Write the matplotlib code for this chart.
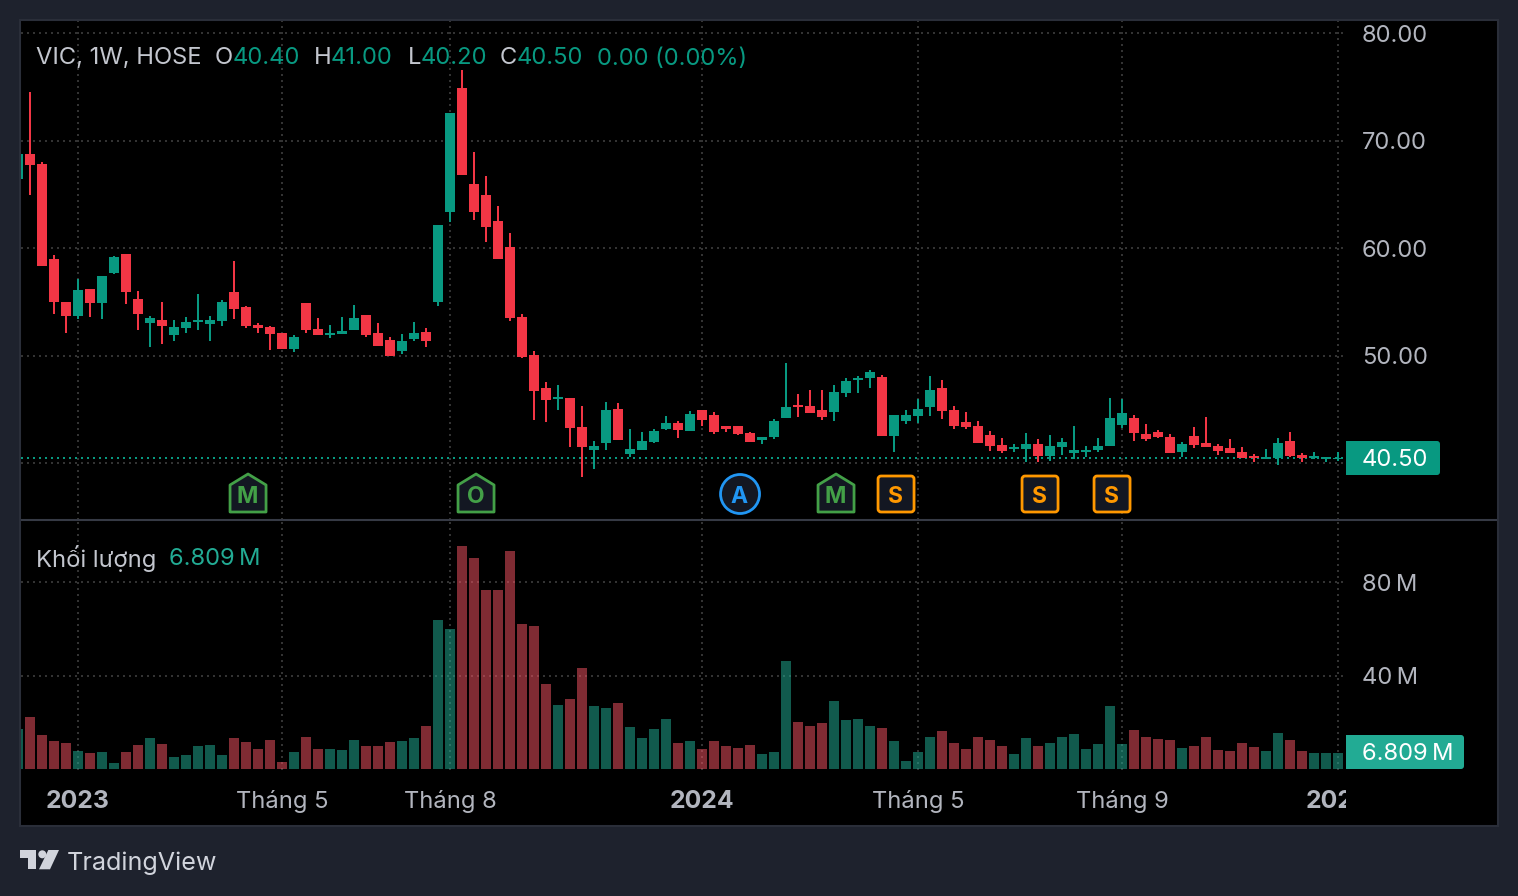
import matplotlib
matplotlib.use('Agg')
import matplotlib.pyplot as plt
import numpy as np
from matplotlib.patches import Polygon, Circle, FancyBboxPatch, Rectangle
from matplotlib.transforms import Bbox

plt.rcParams['font.family'] = ['Inter', 'DejaVu Sans']

# weekly candles, first one is cut by the left edge
opens = [66.45, 68.78, 67.85, 59.00, 55.00, 53.69, 56.21, 54.90, 57.70, 59.47, 55.28, 53.04, 53.32, 51.92, 52.58, 53.14,
         52.95, 53.23, 55.93, 54.53, 52.86, 52.67, 52.11, 50.62, 54.90, 52.48, 51.92, 52.02, 52.39, 53.79, 52.11, 51.46,
         50.43, 51.55, 52.20, 55.00, 63.38, 74.93, 65.99, 64.96, 62.54, 60.12, 53.60, 50.06, 46.99, 45.96, 46.06, 43.36,
         41.22, 41.87, 45.03, 40.84, 41.22, 41.96, 43.17, 43.73, 42.98, 44.94, 44.47, 43.45, 43.45, 42.80, 42.15, 42.43,
         44.20, 45.41, 45.31, 44.94, 44.75, 46.52, 47.73, 47.92, 48.01, 42.52, 43.92, 44.38, 45.22, 46.99, 44.94, 43.82,
         43.45, 42.61, 41.68, 41.31, 41.31, 41.77, 40.66, 41.50, 40.94, 41.03, 41.22, 41.59, 43.54, 44.20, 42.71, 42.89,
         42.43, 41.03, 42.52, 41.87, 41.59, 41.40, 41.03, 40.66, 40.38, 40.47, 42.05, 40.75, 40.47, 40.38, 40.40]
highs = [68.78, 74.55, 68.03, 59.37, 55.00, 57.14, 56.21, 57.42, 59.28, 59.47, 56.02, 53.69, 55.00, 53.32, 53.60, 55.74,
         53.69, 55.18, 58.82, 54.62, 53.04, 52.76, 52.11, 51.92, 54.90, 53.51, 52.86, 53.60, 54.72, 53.79, 53.04, 51.74,
         52.02, 53.14, 52.58, 62.17, 72.60, 76.60, 68.97, 66.73, 63.94, 61.42, 53.88, 50.43, 47.55, 47.27, 46.06, 45.31,
         42.05, 45.69, 45.59, 43.17, 42.89, 43.17, 44.38, 43.92, 44.85, 44.94, 44.75, 43.45, 43.45, 42.89, 42.43, 44.10,
         49.32, 46.43, 46.80, 46.80, 47.27, 47.92, 48.11, 48.67, 48.20, 44.47, 44.94, 45.96, 48.11, 47.73, 45.31, 44.75,
         43.92, 42.98, 42.33, 41.77, 42.80, 42.24, 42.61, 42.33, 43.45, 41.59, 42.33, 46.06, 45.96, 44.47, 43.64, 43.08,
         42.71, 41.96, 43.36, 44.29, 41.77, 42.24, 41.50, 40.84, 41.31, 42.33, 42.89, 40.94, 41.03, 40.56, 41.00]
lows = [66.45, 64.96, 58.35, 53.88, 52.11, 53.41, 53.60, 53.41, 57.60, 54.81, 52.39, 50.81, 51.09, 51.37, 52.11, 52.39,
        51.37, 52.76, 53.41, 52.58, 52.11, 50.53, 50.62, 50.34, 52.11, 51.92, 51.65, 52.02, 52.39, 51.74, 50.90, 49.97,
        50.16, 51.37, 50.81, 54.62, 62.45, 66.82, 62.63, 60.58, 59.00, 53.23, 49.78, 44.01, 43.82, 44.94, 41.50, 38.70,
        39.45, 41.22, 42.15, 40.56, 41.22, 41.87, 43.08, 42.33, 42.98, 43.45, 42.71, 42.89, 42.61, 41.96, 41.77, 42.24,
        44.20, 44.29, 44.66, 44.01, 43.92, 46.15, 46.52, 46.99, 42.52, 41.03, 43.64, 43.73, 44.38, 44.10, 43.17, 43.17,
        41.87, 41.12, 40.94, 41.03, 40.10, 40.10, 40.19, 40.75, 40.38, 40.56, 41.03, 41.59, 43.26, 42.05, 42.05, 42.33,
        40.94, 40.56, 41.40, 41.50, 40.75, 40.94, 40.47, 40.10, 40.38, 39.82, 40.56, 40.10, 40.38, 40.10, 40.20]
closes = [68.78, 67.75, 58.35, 55.00, 53.69, 56.11, 54.90, 57.42, 59.19, 55.93, 53.88, 53.51, 52.76, 52.67, 53.14, 53.32,
          53.32, 55.00, 54.35, 52.76, 52.58, 52.02, 50.62, 51.74, 52.39, 51.92, 52.11, 52.30, 53.51, 51.92, 50.90, 49.97,
          51.37, 52.11, 51.37, 62.17, 72.60, 66.82, 63.38, 61.98, 59.00, 53.51, 49.88, 46.71, 45.87, 46.15, 43.26, 41.50,
          41.59, 44.94, 42.15, 41.31, 42.05, 42.98, 43.73, 43.08, 44.57, 44.01, 42.89, 43.17, 42.71, 41.96, 42.43, 43.92,
          45.22, 45.22, 44.66, 44.29, 46.62, 47.64, 47.92, 48.48, 42.52, 44.47, 44.47, 45.03, 46.80, 44.85, 43.45, 43.36,
          41.87, 41.59, 41.12, 41.50, 41.77, 40.66, 41.59, 41.96, 41.22, 41.22, 41.59, 44.20, 44.66, 42.80, 42.24, 42.43,
          40.94, 41.77, 41.68, 41.50, 41.12, 40.94, 40.47, 40.47, 40.56, 41.87, 40.66, 40.47, 40.66, 40.56, 40.50]
# volume in millions
volumes = [17.1, 22.3, 14.6, 12.0, 11.1, 7.7, 6.9, 7.3, 2.6, 7.3, 10.3, 13.3, 10.7, 5.1, 6.0, 9.9, 10.3, 6.0, 13.3, 11.6,
           8.6, 12.4, 3.0, 7.3, 13.7, 8.6, 8.6, 8.1, 12.4, 9.9, 9.9, 11.6, 12.0, 13.3, 18.4, 63.9, 60.0, 95.6, 90.4, 76.7,
           76.7, 93.4, 62.1, 61.3, 36.4, 27.4, 30.0, 43.3, 27.0, 26.1, 28.3, 18.0, 13.3, 17.1, 21.4, 11.1, 12.0, 8.6, 12.0,
           9.9, 9.0, 10.3, 6.4, 7.3, 46.3, 20.1, 18.4, 19.7, 29.1, 21.0, 21.4, 18.4, 17.6, 12.0, 3.4, 7.3, 13.7, 16.3, 11.1,
           8.6, 13.7, 12.4, 9.9, 6.4, 13.3, 9.9, 11.1, 13.7, 15.0, 8.6, 10.7, 27.0, 10.7, 16.7, 13.7, 12.9, 12.4, 9.0, 9.9,
           13.7, 8.1, 7.7, 11.1, 9.4, 7.7, 15.4, 12.4, 7.7, 6.9, 6.9, 6.809]

price_ticks = [40, 50, 60, 70, 80]
volume_ticks = [40, 80]
time_ticks = [4, 21, 35, 56, 74, 91, 109]
time_labels = ['2023', 'Tháng 5', 'Tháng 8', '2024', 'Tháng 5', 'Tháng 9', '2025']
bold_times = ['2023', '2024', '2025']
last_price = 40.50
last_volume = 6.809
event_idx = [18, 37, 59, 67, 72, 84, 90]
event_labels = ['M', 'O', 'A', 'M', 'S', 'S', 'S']

BG = '#1e222d'
UP = '#089981'
DOWN = '#f23645'
TXT = '#b2b5be'
LEGEND = '#c3c6ce'
GRID = '#333333'
W, H = 1518, 896
DOT = (0, (1, 2))
PX = 0.72
FS = 17.1

fig = plt.figure(figsize=(W / 100, H / 100), dpi=100, facecolor=BG)


def box(x0, y0, x1, y1):
    return [x0 / W, 1 - y1 / H, (x1 - x0) / W, (y1 - y0) / H]


frame = fig.add_axes(box(20, 20, 1498, 826), facecolor='black', zorder=0)
frame.set_xticks([])
frame.set_yticks([])
for s in frame.spines.values():
    s.set_color('#2a2e39')
    s.set_linewidth(1.5)

x = np.arange(len(closes)) - 1
o = np.array(opens)
c = np.array(closes)
up = c >= o
colors = np.where(up, UP, DOWN)

# price pane
ax = fig.add_axes(box(21, 21, 1346, 520), facecolor='none', zorder=1)
ax.set_xlim(-0.75, 109.667)
ax.set_ylim(34.70, 81.16)
ax.vlines(x, lows, highs, colors=colors, linewidth=2 * PX, capstyle='butt', zorder=3)
ax.bar(x, np.abs(c - o), bottom=np.minimum(o, c), width=10 / 12, color=colors, linewidth=0, zorder=4)
ax.axhline(last_price, color=UP, lw=2 * PX, ls=DOT, zorder=2)
ax.set_yticks(price_ticks)
ax.set_yticklabels(['' if p == 40 else '%.2f' % p for p in price_ticks])
ax.yaxis.tick_right()
ax.set_xticks(time_ticks)
ax.tick_params(length=0, labelbottom=False, labelright=True, pad=16 * PX, labelsize=FS, labelcolor=TXT)
ax.grid(True, color=GRID, lw=2 * PX, ls=DOT, zorder=1)
ax.set_axisbelow(True)
for s in ax.spines.values():
    s.set_visible(False)

# volume pane
ax2 = fig.add_axes(box(21, 521, 1346, 770), facecolor='none', zorder=1)
ax2.set_xlim(-0.75, 109.667)
ax2.set_ylim(-0.43, 106.2)
vol_colors = np.where(up, '#22b49a', '#fe5666')
ax2.bar(x, volumes, width=10 / 12, color=vol_colors, alpha=0.5, linewidth=0, zorder=3)
ax2.set_yticks(volume_ticks)
ax2.set_yticklabels(['%d\u2009M' % v for v in volume_ticks])
ax2.yaxis.tick_right()
ax2.set_xticks(time_ticks)
ax2.set_xticklabels(time_labels)
ax2.tick_params(length=0, pad=16 * PX, labelsize=FS, labelcolor=TXT)
ax2.tick_params(axis='x', pad=38 * PX)
ax2.grid(True, color=GRID, lw=2 * PX, ls=DOT, zorder=1)
ax2.set_axisbelow(True)
for s in ax2.spines.values():
    s.set_visible(False)
clip = Bbox([[21, 0], [1346, H]])
for lab in ax2.get_xticklabels():
    lab.set_verticalalignment('baseline')
    if lab.get_text() in bold_times:
        lab.set_fontweight('bold')
        lab.set_fontsize(17.8)
    lab.set_clip_on(True)
    lab.set_clip_box(clip)

# overlay in pixel coords for legend, badges, last value tags
ov = fig.add_axes([0, 0, 1, 1], facecolor='none', zorder=5)
ov.set_xlim(0, W)
ov.set_ylim(H, 0)
ov.axis('off')
ov.plot([21, 1497], [520, 520], color='#363a45', lw=1.5, solid_capstyle='butt')

legend_parts = [(36, 'VIC, 1W, HOSE', LEGEND), (215, 'O', LEGEND), (233, '40.40', UP), (314, 'H', LEGEND),
                (331, '41.00', UP), (408, 'L', LEGEND), (421, '40.20', UP), (500, 'C', LEGEND),
                (517, '40.50', UP), (597, '0.00 (0.00%)', UP)]
for lx, txt, col in legend_parts:
    ov.text(lx, 56, txt, color=col, fontsize=FS, va='center_baseline', ha='left')
ov.text(36, 555.5, 'Khối lượng', color=LEGEND, fontsize=FS, va='center_baseline', ha='left')
ov.text(169, 556.5, '6.809\u2009M', color='#22ab94', fontsize=FS, va='center_baseline', ha='left')


def tag(x0, y0, x1, y1, col, txt):
    ov.add_patch(Rectangle((x0, y0), 6, y1 - y0, facecolor=col, linewidth=0))
    ov.add_patch(FancyBboxPatch((x0 + 3, y0 + 3), x1 - x0 - 6, y1 - y0 - 6, boxstyle='round,pad=3,rounding_size=3',
                                facecolor=col, linewidth=0))
    ov.text(x0 + 16, (y0 + y1) / 2, txt, color='white', fontsize=FS, va='center_baseline', ha='left')


tag(1346, 441, 1440, 475, UP, '%.2f' % last_price)
tag(1346, 735, 1464, 769, '#22ab94', '%.3f\u2009M' % last_volume)

# event badges under the candles
GREEN = '#43a047'
BLUE = '#2196f3'
ORANGE = '#ff9800'
BADGE_FILL = '#131722'
for idx, lab in zip(event_idx, event_labels):
    cx = ov.transData.inverted().transform(ax.transData.transform((idx + 0.17, 40)))[0]
    cy = 494
    if lab in ('M', 'O'):
        pts = [(cx, cy - 20), (cx + 18, cy - 9), (cx + 18, cy + 18), (cx - 18, cy + 18), (cx - 18, cy - 9)]
        col = GREEN
        shape = Polygon(pts, closed=True)
    elif lab == 'A':
        col = BLUE
        shape = Circle((cx, cy), 19.5)
    else:
        col = ORANGE
        shape = FancyBboxPatch((cx - 15, cy - 15), 30, 30, boxstyle='round,pad=3,rounding_size=3')
    shape.set(facecolor=BADGE_FILL, edgecolor=col, linewidth=2.0, joinstyle='round')
    ov.add_patch(shape)
    ov.text(cx - 0.7, cy + 0.3, lab, color=col, fontsize=16.5, fontweight='bold', ha='center', va='center_baseline')

# TradingView logo
LOGO = '#d1d4dc'
ov.add_patch(Polygon([(20, 850), (35.7, 850), (35.7, 869.3), (27.7, 869.3), (27.7, 857.7), (20, 857.7)],
                     facecolor=LOGO, linewidth=0))
ov.add_patch(Circle((42.3, 854.3), 4, facecolor=LOGO, linewidth=0))
ov.add_patch(Polygon([(48.3, 850), (59, 850), (50, 869.3), (39, 869.3)], facecolor=LOGO, linewidth=0))
ov.text(67, 861, 'TradingView', color=LOGO, fontsize=18.1, va='center_baseline', ha='left')

fig.savefig('out.png', dpi=100, facecolor=BG)
